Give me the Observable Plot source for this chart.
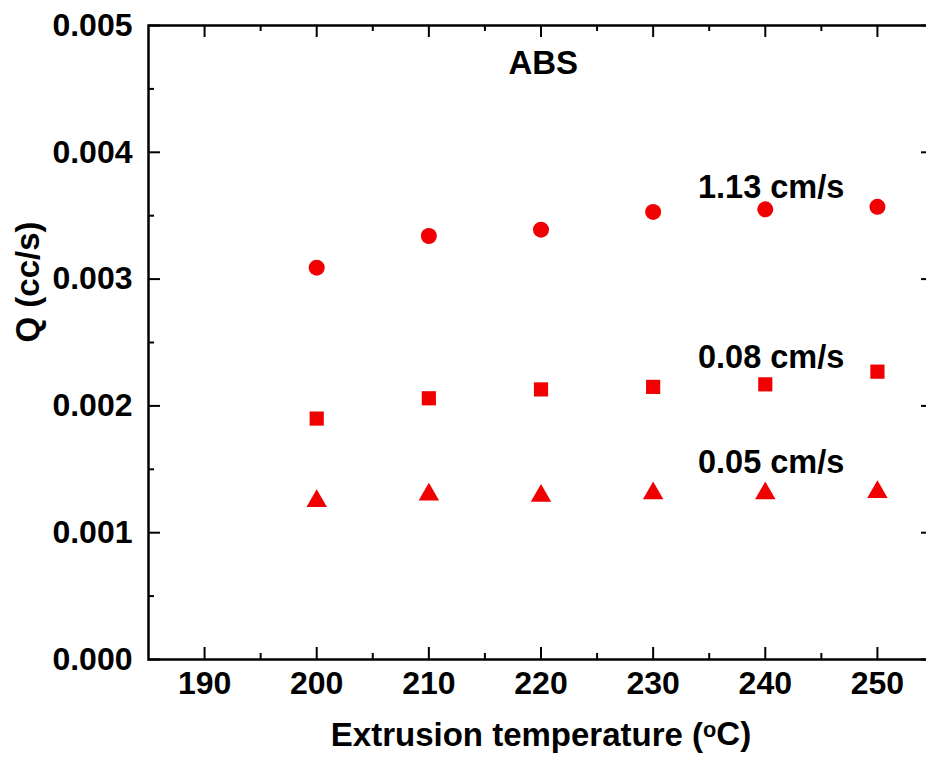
<!DOCTYPE html>
<html>
<head>
<meta charset="utf-8">
<script src="https://cdn.jsdelivr.net/npm/d3@7"></script>
<script src="https://cdn.jsdelivr.net/npm/@observablehq/plot@0.6"></script>
<style>
  html, body { margin: 0; padding: 0; background: #fff; overflow: hidden; }
</style>
</head>
<body>
<div id="chart"></div>
<script>
// ---- data ----
const temps = [200, 210, 220, 230, 240, 250];
const q113 = [0.00309, 0.00334, 0.00339, 0.00353, 0.00355, 0.00357];
const q008 = [0.00190, 0.00206, 0.00213, 0.00215, 0.00217, 0.00227];
const q005 = [0.00125, 0.00130, 0.00129, 0.00131, 0.00131, 0.00132];

const seriesNames = ["1.13 cm/s", "0.08 cm/s", "0.05 cm/s"];
const labelX = [234, 234, 234];
const labelY = [0.00372, 0.00238, 0.00155];

const xTicks = [190, 200, 210, 220, 230, 240, 250];
const xMinor = [195, 205, 215, 225, 235, 245];
const yTicks = [0, 0.001, 0.002, 0.003, 0.004, 0.005];
const yMinor = [0.0005, 0.0015, 0.0025, 0.0035, 0.0045];

const materialTitle = "ABS";
const xTitleBefore = "Extrusion temperature (";
const xTitleSup = "o";
const xTitleAfter = "C)";
const yTitle = "Q (cc/s)";

const toRows = (vals) => temps.map((t, i) => ({t, q: vals[i]}));

const FONT = "'Liberation Sans', Arial, Helvetica, sans-serif";
const FS_TICK = 32;
const FS_LAB = 32.5;
const FS_TITLE = 33;
const frameH = 634, frameW = 785;
const maj = 12, mnr = 6;

const chart = Plot.plot({
  width: 940,
  height: 770,
  marginLeft: 148,
  marginRight: 7,
  marginTop: 25,
  marginBottom: 111,
  style: {maxWidth: "none", fontFamily: FONT, fontWeight: "bold", fontSize: FS_TICK + "px", background: "#fff"},
  x: {domain: [185, 255]},
  y: {domain: [0, 0.005]},
  marks: [
    Plot.axisX(xTicks, {tickSize: 0, tickPadding: 12, fontSize: FS_TICK, fontWeight: "bold", label: null}),
    Plot.axisY(yTicks, {tickSize: 0, tickPadding: 16, fontSize: FS_TICK, fontWeight: "bold", label: null, tickFormat: d3.format(".3f")}),
    // inward ticks: bottom / top
    Plot.tickX(xTicks, {x: d => d, insetTop: frameH - maj, stroke: "#000", strokeWidth: 2}),
    Plot.tickX(xMinor, {x: d => d, insetTop: frameH - mnr, stroke: "#000", strokeWidth: 2}),
    Plot.tickX(xTicks, {x: d => d, insetBottom: frameH - maj, stroke: "#000", strokeWidth: 2}),
    Plot.tickX(xMinor, {x: d => d, insetBottom: frameH - mnr, stroke: "#000", strokeWidth: 2}),
    // inward ticks: left / right
    Plot.tickY(yTicks, {y: d => d, insetRight: frameW - maj, stroke: "#000", strokeWidth: 2}),
    Plot.tickY(yMinor, {y: d => d, insetRight: frameW - mnr, stroke: "#000", strokeWidth: 2}),
    Plot.tickY(yTicks, {y: d => d, insetLeft: frameW - maj, stroke: "#000", strokeWidth: 2}),
    Plot.tickY(yMinor, {y: d => d, insetLeft: frameW - mnr, stroke: "#000", strokeWidth: 2}),
    Plot.frame({stroke: "#000", strokeWidth: 2.5}),
    // data
    Plot.dot(toRows(q113), {x: "t", y: "q", symbol: "circle", r: 8, fill: "#f00000", stroke: "none"}),
    Plot.dot(toRows(q008), {x: "t", y: "q", symbol: "square", r: 8, fill: "#f00000", stroke: "none"}),
    Plot.dot(toRows(q005), {x: "t", y: "q", symbol: "triangle", r: 7.6, fill: "#f00000", stroke: "none"}),
    // series labels
    Plot.text(seriesNames, {x: (d, i) => labelX[i], y: (d, i) => labelY[i], text: d => d, textAnchor: "start", fontSize: FS_LAB, fontWeight: "bold", fill: "#000"}),
    Plot.text([materialTitle], {x: [220.2], y: [0.0047], text: d => d, fontSize: FS_TITLE, fontWeight: "bold", fill: "#000"}),
    // axis titles
    Plot.text([xTitleBefore + xTitleSup + xTitleAfter], {frameAnchor: "bottom", dy: 86, text: d => d, fontSize: FS_TITLE, fontWeight: "bold", fill: "#000", className: "xtitle"}),
    Plot.text([yTitle], {frameAnchor: "left", dx: -120, rotate: -90, text: d => d, fontSize: FS_TITLE, fontWeight: "bold", fill: "#000"})
  ]
});
document.getElementById("chart").appendChild(chart);

// superscript "o" in the x-axis title
d3.select(chart).selectAll("text")
  .filter(function () { return this.textContent === xTitleBefore + xTitleSup + xTitleAfter; })
  .each(function () {
    const t = d3.select(this);
    t.text(null);
    t.append("tspan").text(xTitleBefore);
    t.append("tspan").attr("dy", "-0.38em").attr("font-size", "0.66em").text(xTitleSup);
    t.append("tspan").attr("dy", "0.25em").text(xTitleAfter);
  });
</script>
</body>
</html>
